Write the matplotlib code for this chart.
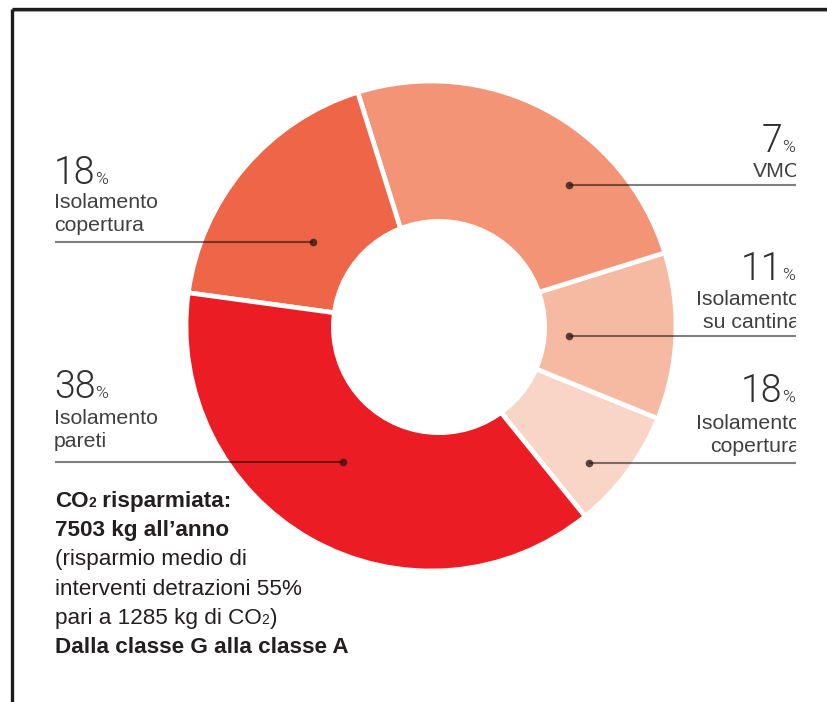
import matplotlib
matplotlib.use("Agg")
import matplotlib.pyplot as plt
from matplotlib import font_manager
from matplotlib.patches import Circle
from matplotlib.transforms import Bbox, TransformedBbox

# ---- data -------------------------------------------------------------
# slices listed counter-clockwise, starting from the lower-right wedge
slice_keys = ["copertura_dx", "cantina", "vmc", "copertura_sx", "pareti"]
slice_values = [8, 11, 25, 18, 38]
slice_colors = ["#F9D5C7", "#F6BAA2", "#F29475", "#EE6547", "#EC1C24"]

# printed callouts: percentage and caption lines
label_pcts = {"copertura_sx": "18", "pareti": "38", "vmc": "7",
              "cantina": "11", "copertura_dx": "18"}
label_lines = {"copertura_sx": ["Isolamento", "copertura"],
               "pareti": ["Isolamento", "pareti"],
               "vmc": ["VMC"],
               "cantina": ["Isolamento", "su cantina"],
               "copertura_dx": ["Isolamento", "copertura"]}

note_lines = [
    [("CO", "bold", 16.2), ("2", "bold", 10), (" risparmiata:", "bold", 16.2)],
    [("7503 kg all\u2019anno", "bold", 16.2)],
    [("(risparmio medio di", "regular", 16.2)],
    [("interventi detrazioni 55%", "regular", 16.2)],
    [("pari a 1285 kg di CO", "regular", 16.2), ("2", "regular", 10),
     (")", "regular", 16.2)],
    [("Dalla classe G alla classe A", "bold", 16.2)],
]


# ---- fonts ------------------------------------------------------------
def font_file(family, weight, fallback):
    """Return the file of an upright face of `family` with the given weight."""
    best = None
    for f in font_manager.fontManager.ttflist:
        if f.name != family or f.style != "normal":
            continue
        if "narrow" in f.fname.lower() or "condensed" in f.fname.lower():
            continue
        w = f.weight if isinstance(f.weight, int) else 400
        score = abs(w - weight)
        if best is None or score < best[0]:
            best = (score, f.fname)
    if best is None:
        return font_manager.findfont(fallback)
    return best[1]


FONTS = {
    "regular": font_file("Liberation Sans", 400, "DejaVu Sans"),
    "bold": font_file("Liberation Sans", 700, "DejaVu Sans:bold"),
    "light": font_file("Roboto", 300, "DejaVu Sans"),
}

# ---- figure -----------------------------------------------------------
W, H = 828, 702
fig = plt.figure(figsize=(W / 100, H / 100), dpi=100)
fig.patch.set_facecolor("white")
ax = fig.add_axes([0, 0, 1, 1])


def Y(y_from_top):
    return H - y_from_top


cx, cy, R = 431, 326, 245
ax.pie(slice_values, colors=slice_colors, startangle=-51, counterclock=True,
       radius=R, center=(cx, Y(cy)),
       wedgeprops=dict(edgecolor="white", linewidth=3.4))
ax.add_patch(Circle((cx + 8, Y(cy + 1)), 108, facecolor="white",
                    edgecolor="none", zorder=3))
ax.set_aspect("auto")
ax.set_xlim(0, W)
ax.set_ylim(0, H)
ax.axis("off")

# frame (top and left edges visible)
ax.plot([12, W + 5], [Y(8.5), Y(8.5)], color="#1c1c1c", lw=2.4,
        solid_capstyle="butt", clip_on=False)
ax.plot([13, W + 5], [Y(10.5), Y(10.5)], color="#9a9a9a", lw=0.8,
        solid_capstyle="butt", clip_on=False)
ax.plot([12, 12], [Y(8.5), -5], color="#1c1c1c", lw=2.4,
        solid_capstyle="butt", clip_on=False)

renderer = fig.canvas.get_renderer()
clip_right = TransformedBbox(Bbox([[0, 0], [796, H]]), ax.transData)


def text_run(x, y_top, pieces, align="left", color="#222222", clip=False):
    arts = []
    for s, face, size in pieces:
        fp = font_manager.FontProperties(fname=FONTS[face], size=size)
        t = ax.text(0, Y(y_top), s, fontproperties=fp, color=color,
                    va="baseline", ha="left", zorder=6)
        if clip:
            t.set_clip_box(clip_right)
            t.set_clip_on(True)
        arts.append(t)
    widths = [t.get_window_extent(renderer).width for t in arts]
    x0 = x if align == "left" else x - sum(widths)
    for t, w in zip(arts, widths):
        t.set_x(x0)
        x0 += w


def callout(key, x, base_pct, base_lines, align, clip=False):
    text_run(x, base_pct, [(label_pcts[key], "light", 27),
                           ("%", "light", 12.5)],
             align=align, color="#303030", clip=clip)
    for line, b in zip(label_lines[key], base_lines):
        text_run(x if align == "left" else x + 5, b,
                 [(line, "regular", 15.3)], align=align,
                 color="#404040", clip=clip)


callout("copertura_sx", 54, 184, [208, 231], "left")
callout("pareti", 54, 398, [424, 447], "left")
callout("vmc", 795, 152, [177], "right", clip=True)
callout("cantina", 795, 280, [305, 328], "right", clip=True)
callout("copertura_dx", 795, 402, [429, 452], "right", clip=True)

# leader lines with end dots
leaders = [((55, 313), 242, 313), ((55, 343), 462, 343),
           ((569, 796), 185, 569), ((569, 796), 336, 569),
           ((589, 796), 463, 589)]
for (x0, x1), y, xd in leaders:
    ax.plot([x0, x1], [Y(y), Y(y)], color="black", alpha=0.5, lw=1.5,
            solid_capstyle="butt", zorder=5)
    ax.plot([xd], [Y(y)], "o", color="#2a1410", alpha=0.75, ms=5.5,
            mec="none", zorder=5)

# note block
for i, line in enumerate(note_lines):
    text_run(55, 507 + i * 29.2, line, color="#231f20")

fig.savefig("out.png", dpi=100, facecolor="white")
